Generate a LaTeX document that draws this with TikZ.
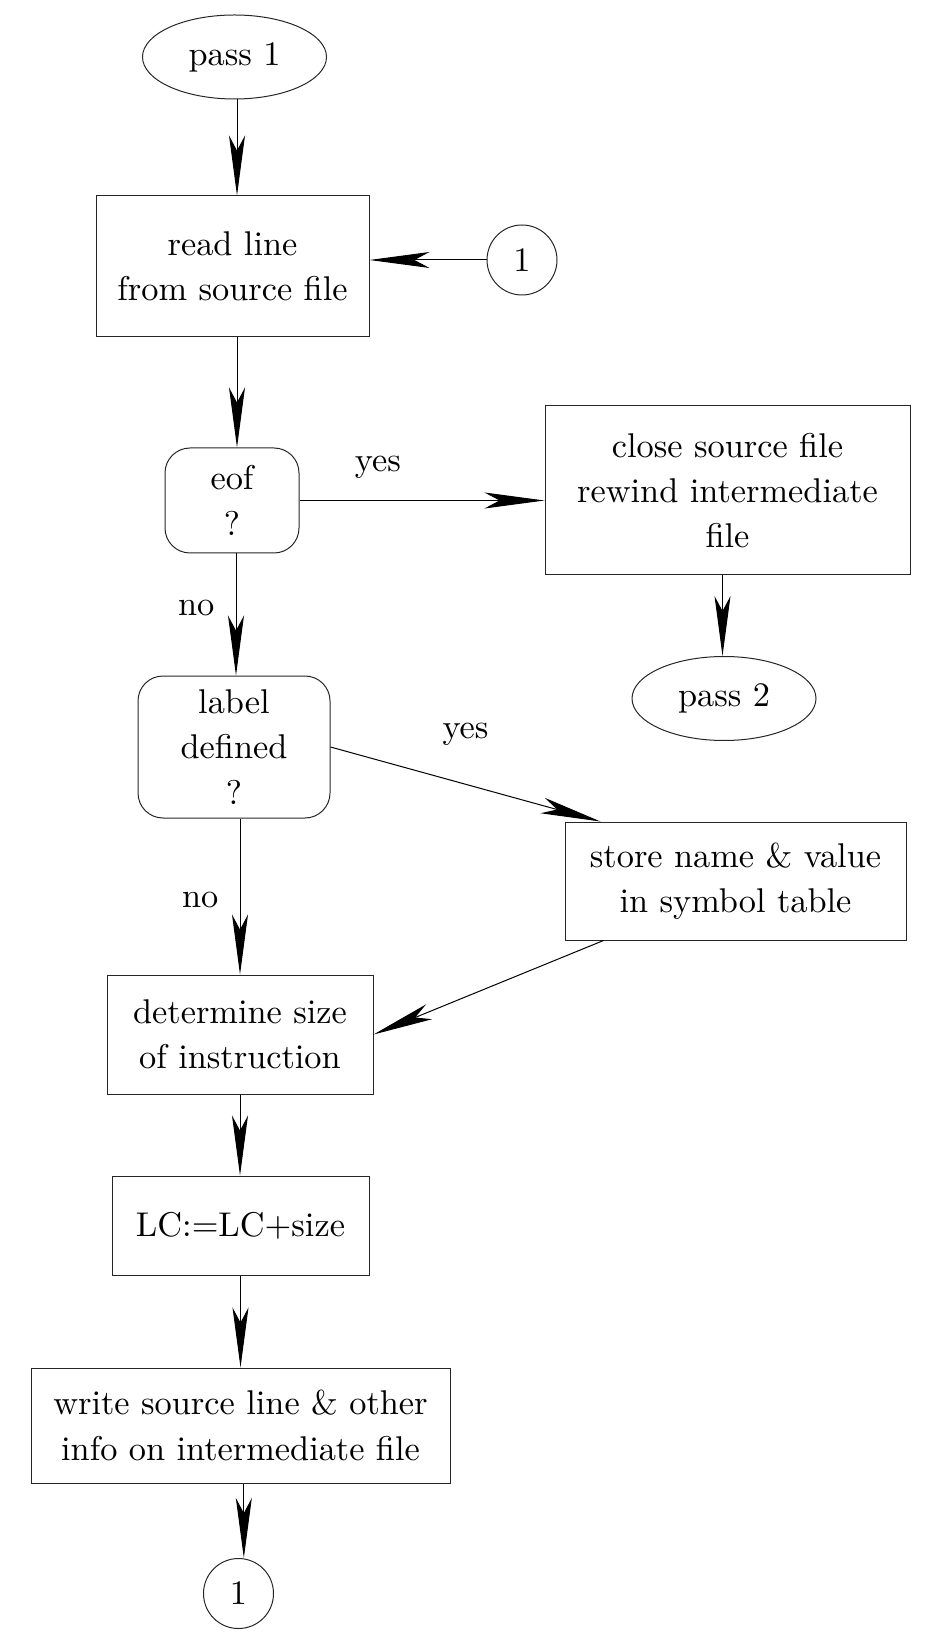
\documentclass[tikz,border=0pt]{standalone}
\usepackage{tikz}
\usetikzlibrary{arrows.meta,shapes.geometric}

\tikzset{
  every node/.style={font=\fontsize{10.3pt}{13.6pt}\selectfont},
  flow/.style={-{Stealth[length=18pt,width=4.8pt,inset=4.5pt]}, line width=0.3pt},
  procbox/.style={draw=black!85, line width=0.3pt, rectangle, align=center, inner sep=0pt},
  testbox/.style={draw=black!85, line width=0.3pt, rectangle, rounded corners=7.5pt, align=center, inner sep=0pt},
  termnode/.style={draw=black!85, line width=0.3pt, ellipse, minimum width=55.2pt, minimum height=25.2pt, inner sep=0pt},
  connnode/.style={draw=black!85, line width=0.3pt, circle, minimum size=21pt, inner sep=0pt}
}

\begin{document}
\begin{tikzpicture}[x=0.3pt, y=-0.3pt]
				\useasboundingbox (0,0) rectangle (925,1643);
				
				% left column
				\node[termnode] (pass1) at (234.5,57) {pass 1};
				\node[procbox, minimum width=81.9pt, minimum height=42.3pt] (readline) at (232.5,266.5) {read line\\from source file};
				\node[connnode] (connin) at (522,260) {1};
				\node[testbox, minimum width=40.2pt, minimum height=31.5pt] (eof) at (232,500.5) {eof\\?};
				\node[testbox, minimum width=57.6pt, minimum height=42.6pt] (labeldef) at (234,747) {label\\defined\\?};
				\node[procbox, minimum width=79.8pt, minimum height=35.7pt] (size) at (240,1034.5) {determine size\\of instruction};
				\node[procbox, minimum width=77.1pt, minimum height=29.7pt] (lc) at (240.5,1225.5) {LC:=LC+size};
				\node[procbox, minimum width=125.7pt, minimum height=34.5pt] (write) at (240.5,1425.5) {write source line \& other\\info on intermediate file};
				\node[connnode] (connout) at (238.5,1593.5) {1};
				
				% right column
				\node[procbox, minimum width=109.5pt, minimum height=50.7pt] (close) at (727.5,490.5) {close source file\\rewind intermediate\\file};
				\node[termnode] (pass2) at (724,698.5) {pass 2};
				\node[procbox, minimum width=102.3pt, minimum height=35.4pt] (store) at (735.5,881) {store name \& value\\in symbol table};
				
				\draw[flow] ([xshift=0.75pt]pass1.south) -- ([xshift=0.75pt]pass1.south |- readline.north);
				\draw[flow] (connin.west) -- (connin.west -| readline.east);
				\draw[flow] ([xshift=1.35pt]readline.south) -- ([xshift=1.35pt]readline.south |- eof.north);
				\draw[flow] (eof.east) -- node[pos=0.32, above=3pt] {yes} (eof.east -| close.west);
				\draw[flow] ([xshift=-1.5pt]close.south) -- ([xshift=-1.5pt]close.south |- pass2.north);
				\draw[flow] ([xshift=1.2pt]eof.south) -- node[pos=0.45, left=3pt] {no} ([xshift=1.2pt]eof.south |- labeldef.north);
				\draw[flow] (labeldef.east) -- node[pos=0.5, above=8pt] {yes} ([xshift=10.8pt]store.north west);
				\draw[flow] ([xshift=1.8pt]labeldef.south) -- node[pos=0.52, left=3pt] {no} ([xshift=1.8pt]labeldef.south |- size.north);
				\draw[flow] ([xshift=11.7pt]store.south west) -- (size.east);
				\draw[flow] (size.south) -- (size.south |- lc.north);
				\draw[flow] (lc.south) -- (lc.south |- write.north);
				\draw[flow] ([xshift=1pt]write.south) -- ([xshift=1pt]write.south |- connout.north);
			\end{tikzpicture}
\end{document}
